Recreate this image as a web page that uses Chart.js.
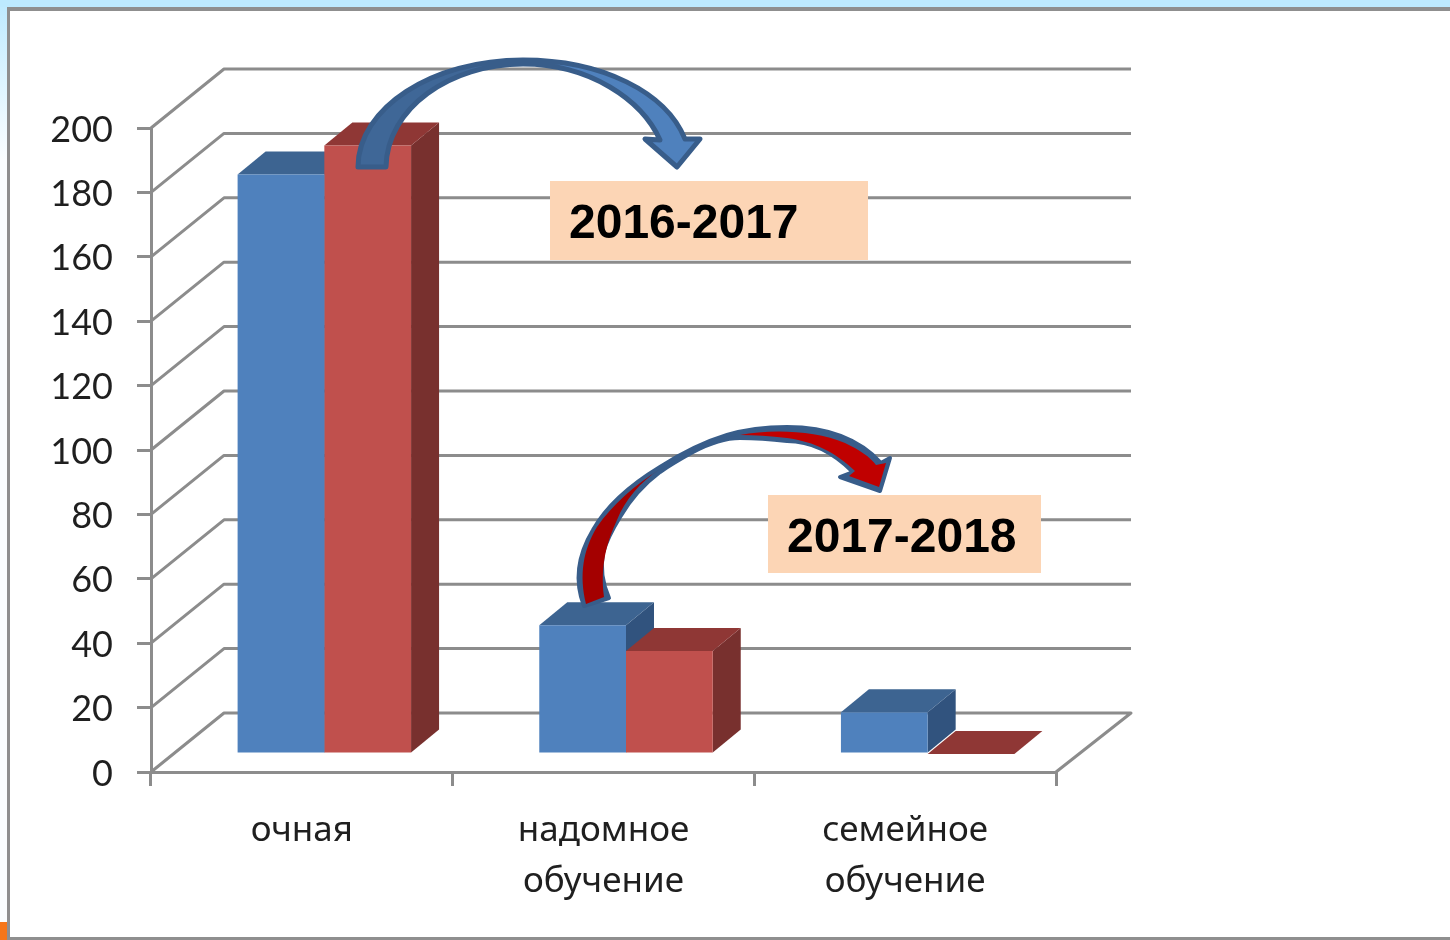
<!DOCTYPE html>
<html lang="ru">
<head>
<meta charset="utf-8">
<title>Формы обучения</title>
<style>html,body{margin:0;padding:0;background:#fff;overflow:hidden}canvas{display:block;filter:blur(0.55px)}</style>
<script src="https://cdn.jsdelivr.net/npm/chart.js@4"></script>
</head>
<body>
<canvas id="c" width="1450" height="940"></canvas>
<script>
const categories = [["очная"], ["надомное", "обучение"], ["семейное", "обучение"]];
const series2016 = [180, 40, 13];
const series2017 = [189, 32, 0];
const yearLabels = ["2016-2017", "2017-2018"];
const yTickStep = 20;

const WALL = {dx: 73, dy: -59};
const BAR_OFFSET = {dx: 22.5, dy: -18};
const BAR_DEPTH = {dx: 28, dy: -23};
const GRID = "#8c8c8c";
const FACES = [
  {front: "#4f81bd", top: "#3d6491", side: "#31537e"},
  {front: "#c0504d", top: "#8f3735", side: "#78302e"}
];

function poly(ctx, pts, fill) {
  ctx.beginPath();
  ctx.moveTo(pts[0][0], pts[0][1]);
  for (let i = 1; i < pts.length; i++) ctx.lineTo(pts[i][0], pts[i][1]);
  ctx.closePath();
  ctx.fillStyle = fill;
  ctx.fill();
}

const framePlugin = {
  id: "frame",
  beforeDraw(chart) {
    const ctx = chart.ctx;
    ctx.save();
    ctx.fillStyle = "#fff";
    ctx.fillRect(0, 0, 1450, 940);
    const g = ctx.createLinearGradient(0, 0, 0, 160);
    g.addColorStop(0, "#bdeaff");
    g.addColorStop(1, "#fbfeff");
    ctx.fillStyle = g;
    ctx.fillRect(0, 0, 8, 940);
    ctx.fillStyle = "#bdeaff";
    ctx.fillRect(0, 0, 1450, 7);
    ctx.fillStyle = "#f5761a";
    ctx.fillRect(0, 922, 7, 18);
    ctx.fillStyle = "#8f8f8f";
    ctx.fillRect(7, 7, 1443, 4);
    ctx.fillRect(7, 7, 3, 933);
    ctx.fillRect(7, 937, 1443, 3);
    ctx.restore();
    // nudge value-axis labels down to sit level with their tick marks
    chart.scales.y.getLabelItems().forEach(item => {
      item.options.translation = [item.options.translation[0], item.options.translation[1] + 2];
    });
  }
};

const wallPlugin = {
  id: "wall",
  beforeDatasetsDraw(chart) {
    const ctx = chart.ctx, y = chart.scales.y, area = chart.chartArea;
    ctx.save();
    ctx.strokeStyle = GRID;
    ctx.lineJoin = "round";
    y.ticks.forEach(t => {
      const py = y.getPixelForValue(t.value);
      ctx.lineWidth = 3;
      ctx.beginPath();
      ctx.moveTo(area.left, py);
      ctx.lineTo(area.left + WALL.dx, py + WALL.dy);
      ctx.lineTo(area.right + WALL.dx + 2, py + WALL.dy);
      if (t.value === 0) ctx.lineTo(area.right, py);
      ctx.stroke();
    });
    ctx.restore();

    // bar depth faces, then the library draws the fronts shifted onto the floor
    ctx.save();
    ctx.translate(BAR_OFFSET.dx, BAR_OFFSET.dy);
    const n = chart.data.labels.length;
    for (let i = 0; i < n; i++) {
      [0, 1].forEach(d => {
        const b = chart.getDatasetMeta(d).data[i];
        const l = b.x - b.width / 2, r = b.x + b.width / 2, top = b.y, base = b.base;
        const f = FACES[d], ox = BAR_DEPTH.dx, oy = BAR_DEPTH.dy;
        poly(ctx, [[r, top], [r + ox, top + oy], [r + ox, base + oy], [r, base]], f.side);
        poly(ctx, [[l, top], [l + ox, top + oy], [r + ox, top + oy], [r, top]], f.top);
      });
    }
    ctx.restore();
    ctx.save();
    ctx.translate(BAR_OFFSET.dx, BAR_OFFSET.dy);
  },
  afterDatasetsDraw(chart) {
    chart.ctx.restore();
  }
};

function arrowBlue(ctx) {
  const outline = () => {
    ctx.beginPath();
    ctx.moveTo(358, 167);
    ctx.bezierCurveTo(358, 108, 432, 60, 523, 60);
    ctx.bezierCurveTo(602, 60, 666, 92, 685, 139);
    ctx.lineTo(700, 139);
    ctx.lineTo(677, 167);
    ctx.lineTo(645, 139);
    ctx.lineTo(660, 140);
    ctx.bezierCurveTo(642, 100, 590, 64, 523, 64);
    ctx.bezierCurveTo(450, 64, 387, 108, 386, 167);
    ctx.closePath();
  };
  ctx.save();
  ctx.lineJoin = "round";
  outline();
  ctx.fillStyle = "#4f81bd";
  ctx.fill();
  ctx.beginPath();
  ctx.moveTo(358, 167);
  ctx.bezierCurveTo(358, 108, 432, 60, 523, 60);
  ctx.lineTo(560, 62);
  ctx.lineTo(523, 64);
  ctx.bezierCurveTo(450, 64, 387, 108, 386, 167);
  ctx.closePath();
  ctx.fillStyle = "#3f6797";
  ctx.fill();
  outline();
  ctx.strokeStyle = "#385d8a";
  ctx.lineWidth = 5;
  ctx.stroke();
  ctx.restore();
}

function arrowRed(ctx) {
  ctx.save();
  ctx.lineJoin = "round";
  ctx.beginPath();
  ctx.moveTo(584, 606);
  ctx.bezierCurveTo(574, 580, 578, 555, 593, 530);
  ctx.bezierCurveTo(607, 505, 632, 484, 660, 467);
  ctx.bezierCurveTo(682, 453, 704, 442, 727, 435);
  ctx.bezierCurveTo(747, 429, 767, 427, 787, 427);
  ctx.bezierCurveTo(830, 427, 860, 440, 881, 463);
  ctx.lineTo(890, 458);
  ctx.lineTo(880, 491);
  ctx.lineTo(840, 477);
  ctx.lineTo(853, 472);
  ctx.bezierCurveTo(833, 452, 810, 441, 787, 441);
  ctx.bezierCurveTo(770, 439, 755, 438, 740, 438);
  ctx.bezierCurveTo(725, 438, 708, 444, 693, 452);
  ctx.bezierCurveTo(682, 458, 670, 465, 660, 472);
  ctx.bezierCurveTo(644, 484, 630, 500, 620, 517);
  ctx.bezierCurveTo(612, 530, 606, 542, 603, 553);
  ctx.bezierCurveTo(600, 570, 603, 585, 609, 598);
  ctx.closePath();
  ctx.fillStyle = "#385d8a";
  ctx.strokeStyle = "#385d8a";
  ctx.lineWidth = 4;
  ctx.fill();
  ctx.stroke();
  ctx.beginPath();
  ctx.moveTo(586, 604);
  ctx.bezierCurveTo(579, 575, 583, 550, 597, 527);
  ctx.bezierCurveTo(612, 505, 635, 485, 660, 469);
  ctx.bezierCurveTo(640, 482, 625, 500, 617, 520);
  ctx.bezierCurveTo(607, 542, 600, 565, 604, 597);
  ctx.closePath();
  ctx.fillStyle = "#a40000";
  ctx.fill();
  ctx.beginPath();
  ctx.moveTo(740, 435);
  ctx.bezierCurveTo(770, 429, 815, 430, 845, 443);
  ctx.bezierCurveTo(860, 450, 870, 457, 876, 465);
  ctx.lineTo(886, 463);
  ctx.lineTo(879, 487);
  ctx.lineTo(849, 476);
  ctx.lineTo(855, 471);
  ctx.bezierCurveTo(835, 452, 815, 442, 787, 438);
  ctx.bezierCurveTo(770, 436, 755, 435, 740, 435);
  ctx.closePath();
  ctx.fillStyle = "#c00000";
  ctx.fill();
  ctx.restore();
}

const annotationPlugin = {
  id: "annotations",
  afterDraw(chart) {
    const ctx = chart.ctx;
    arrowBlue(ctx);
    arrowRed(ctx);
    ctx.save();
    ctx.fillStyle = "#fcd5b5";
    ctx.fillRect(550, 181, 318, 79);
    ctx.fillRect(768, 495, 273, 78);
    ctx.fillStyle = "#000";
    ctx.font = "bold 48px 'Liberation Sans', Arial, sans-serif";
    ctx.textAlign = "left";
    ctx.textBaseline = "middle";
    ctx.fillText(yearLabels[0], 569, 225);
    ctx.fillText(yearLabels[1], 787, 539);
    ctx.restore();
  }
};

new Chart(document.getElementById("c"), {
  type: "bar",
  data: {
    labels: categories,
    datasets: [
      {label: yearLabels[0], data: series2016, backgroundColor: FACES[0].front, borderWidth: 0, clip: false},
      {label: yearLabels[1], data: series2017, backgroundColor: FACES[1].front, borderWidth: 0, clip: false}
    ]
  },
  options: {
    responsive: false,
    animation: false,
    devicePixelRatio: 1,
    categoryPercentage: 0.575,
    barPercentage: 1,
    layout: {padding: {top: 128, right: 394, left: 0, bottom: 0}},
    plugins: {legend: {display: false}, tooltip: {enabled: false}, title: {display: false}},
    scales: {
      x: {
        afterFit(s) { s.height = 168; },
        border: {display: true, color: GRID, width: 3},
        grid: {display: true, drawOnChartArea: false, drawTicks: true, tickLength: 14, color: GRID, lineWidth: 3},
        ticks: {
          color: "#1f1f1f",
          padding: 20,
          maxRotation: 0,
          autoSkip: false,
          font: {family: "'Noto Sans', sans-serif", size: 35, lineHeight: 1.457}
        }
      },
      y: {
        min: 0,
        max: 200,
        afterFit(s) { s.width = 151; },
        border: {display: true, color: GRID, width: 3},
        grid: {display: true, drawOnChartArea: false, drawTicks: true, tickLength: 14, color: GRID, lineWidth: 3},
        ticks: {
          stepSize: yTickStep,
          color: "#1f1f1f",
          padding: 24,
          font: {family: "Lato, sans-serif", size: 36}
        }
      }
    }
  },
  plugins: [framePlugin, wallPlugin, annotationPlugin]
});
</script>
</body>
</html>
